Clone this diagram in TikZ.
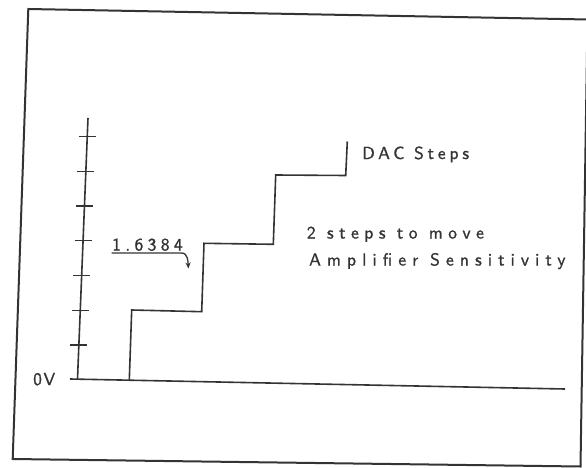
\documentclass[tikz,border=0pt]{standalone}
\usepackage{fontspec}
\usetikzlibrary{calc,arrows.meta}
\newfontfamily\plotfamily{lmsans10-regular.otf}[FakeBold=1.2]
\definecolor{ink}{HTML}{333333}
\newcommand{\plotfont}[1]{\plotfamily\fontsize{17.5}{20}\selectfont\addfontfeatures{LetterSpace=#1}}
\tikzset{
  frame/.style={draw=ink,line width=2pt,line join=miter},
  plotline/.style={draw=ink,line width=1.6pt,line join=miter},
  tickline/.style={draw=ink,line width=1.3pt},
  lbl/.style={inner sep=0pt,anchor=base west,text=ink},
}
\begin{document}
\begin{tikzpicture}[x=1pt,y=-1pt]
\useasboundingbox (0,0) rectangle (586,468);
% frame (slightly skewed as in scan)
\coordinate (f1) at (28.3,9);
\coordinate (f2) at (587.5,19.5);
\coordinate (f3) at (580.5,466.5);
\coordinate (f4) at (12.7,459);
\draw[frame] (f1) -- (f2) -- (f3) -- (f4) -- cycle;
% axes
\coordinate (A) at (88,118);
\coordinate (B) at (77.5,379);
\coordinate (O) at (70,379);
\coordinate (E) at (565,389);
\draw[plotline] (A) -- (B);
\draw[plotline] (O) -- (E);
\foreach \i in {0,...,6}{
  \coordinate (t\i) at ($(A)!{0.0716+0.133*\i}!(B)$);
  \draw[tickline] ($(t\i)+(-8.5,0)$) -- ($(t\i)+(8.5,0)$);
}
% staircase
\coordinate (s0) at (129.3,380);
\coordinate (s1) at (131.7,310);
\coordinate (s2) at (201.7,311.7);
\coordinate (s3) at (204,243.3);
\coordinate (s4) at (273.3,244.3);
\coordinate (s5) at (275.7,175);
\coordinate (s6) at (345.7,175.5);
\coordinate (s7) at (347.3,141.5);
\draw[plotline] (s0) -- (s1) -- (s2) -- (s3) -- (s4) -- (s5) -- (s6) -- (s7);
% labels
\node[lbl,font=\plotfont{9}] (zero) at (33,385) {0V};
\node[lbl,font=\plotfont{25}] (val) at (112,250.5) {1.6384};
\node[lbl,font=\plotfont{22}] (dac) at (362,159) {DAC Steps};
\node[lbl,font=\plotfont{31.5}] (two) at (306.7,238.5) {2 steps to move};
\node[lbl,font=\plotfont{35}] (amp) at (309,265.5) {Amplifier Sensitivity};
% underline with pointer
\coordinate (u0) at (111.5,253);
\coordinate (u1) at (181.5,253);
\coordinate (u2) at (188.5,268.5);
\draw[draw=ink,line width=1.3pt,-{Stealth[length=6pt,width=5pt]}]
  (u0) -- (u1) to[out=0,in=95] (u2);
\end{tikzpicture}
\end{document}
